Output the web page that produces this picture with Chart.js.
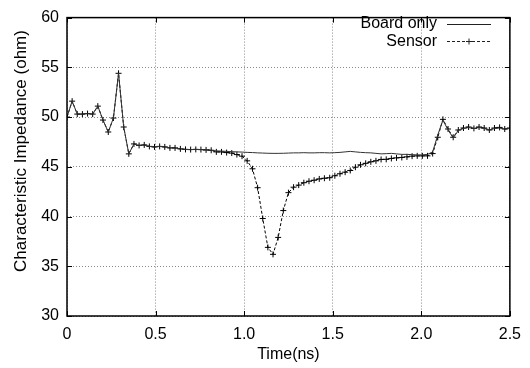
<!DOCTYPE html>
<html lang="en">
<head>
<meta charset="UTF-8">
<title>Characteristic Impedance</title>
<script src="https://cdn.jsdelivr.net/npm/chart.js@4.4.1/dist/chart.umd.min.js"></script>
<style>
  html, body { margin: 0; padding: 0; background: #fff; }
</style>
</head>
<body>
<canvas id="chart" width="530" height="368"></canvas>
<script>
// sample times (ns)
const times = [
  0, 0.029, 0.058, 0.087, 0.116, 0.145, 0.174, 0.203, 0.233, 0.262,
  0.291, 0.320, 0.349, 0.378, 0.407, 0.436, 0.465, 0.494, 0.523, 0.552,
  0.581, 0.610, 0.640, 0.669, 0.698, 0.727, 0.756, 0.785, 0.814, 0.843,
  0.872, 0.901, 0.930, 0.959, 0.988, 1.017, 1.047, 1.076, 1.105, 1.134,
  1.163, 1.192, 1.221, 1.250, 1.279, 1.308, 1.337, 1.366, 1.395, 1.424,
  1.453, 1.483, 1.512, 1.541, 1.570, 1.599, 1.628, 1.657, 1.686, 1.715,
  1.744, 1.773, 1.802, 1.831, 1.860, 1.890, 1.919, 1.948, 1.977, 2.006,
  2.035, 2.064, 2.093, 2.122, 2.151, 2.180, 2.209, 2.238, 2.267, 2.297,
  2.326, 2.355, 2.384, 2.413, 2.442, 2.471, 2.500
];

// impedance (ohm)
const sensor = [
  50.0, 51.6, 50.3, 50.3, 50.35, 50.3, 51.1, 49.7, 48.5, 49.9,
  54.4, 49.0, 46.3, 47.3, 47.15, 47.2, 47.05, 47.0, 47.05, 47.0,
  46.9, 46.9, 46.8, 46.75, 46.73, 46.75, 46.73, 46.7, 46.66, 46.5,
  46.5, 46.43, 46.38, 46.23, 46.07, 45.6, 44.8, 42.9, 39.8, 36.9,
  36.2, 37.9, 40.6, 42.4, 42.95, 43.16, 43.4, 43.55, 43.65, 43.78,
  43.85, 43.9, 44.1, 44.3, 44.46, 44.63, 44.96, 45.2, 45.35, 45.5,
  45.6, 45.74, 45.75, 45.84, 45.9, 45.94, 46.0, 46.07, 46.1, 46.1,
  46.1, 46.33, 47.97, 49.77, 48.8, 47.97, 48.7, 48.9, 49.0, 48.86,
  49.0, 48.9, 48.7, 48.9, 48.96, 48.8, 48.9
];

const boardOnly = [
  50.0, 51.6, 50.3, 50.3, 50.35, 50.3, 51.1, 49.7, 48.5, 49.9,
  54.4, 49.0, 46.3, 47.3, 47.15, 47.2, 47.05, 47.0, 47.05, 47.0,
  46.9, 46.9, 46.8, 46.75, 46.73, 46.75, 46.73, 46.7, 46.66, 46.6,
  46.58, 46.55, 46.52, 46.5, 46.48, 46.45, 46.43, 46.4, 46.38, 46.36,
  46.35, 46.35, 46.36, 46.38, 46.4, 46.4, 46.42, 46.4, 46.4, 46.42,
  46.42, 46.4, 46.42, 46.45, 46.5, 46.55, 46.5, 46.45, 46.42, 46.4,
  46.35, 46.3, 46.32, 46.35, 46.3, 46.25, 46.25, 46.22, 46.2, 46.2,
  46.25, 46.5, 48.2, 49.7, 48.7, 47.9, 48.65, 48.85, 48.95, 48.85,
  48.95, 48.85, 48.7, 48.85, 48.9, 48.8, 48.85
];

const xTicks = [0, 0.5, 1, 1.5, 2, 2.5];
const yTicks = [30, 35, 40, 45, 50, 55, 60];
const seriesNames = ['Board only', 'Sensor'];
const xTitle = 'Time(ns)';
const yTitle = 'Characteristic Impedance (ohm)';

const FONT = '"Liberation Sans", Arial, Helvetica, sans-serif';

function pts(vals) {
  return vals.map((v, i) => ({ x: times[i], y: v }));
}

// gnuplot style frame, inward ticks, axis titles and key
const gnuFrame = {
  id: 'gnuFrame',
  afterDraw(chart) {
    const { ctx, chartArea: a, scales: { x, y } } = chart;
    ctx.save();
    ctx.strokeStyle = '#000';
    ctx.lineWidth = 1;
    ctx.beginPath();
    xTicks.forEach(v => {
      const px = Math.round(x.getPixelForValue(v)) + 0.5;
      ctx.moveTo(px, a.bottom); ctx.lineTo(px, a.bottom - 5);
      ctx.moveTo(px, a.top); ctx.lineTo(px, a.top + 5);
    });
    yTicks.forEach(v => {
      const py = Math.round(y.getPixelForValue(v)) + 0.5;
      ctx.moveTo(a.left, py); ctx.lineTo(a.left + 5, py);
      ctx.moveTo(a.right, py); ctx.lineTo(a.right - 5, py);
    });
    ctx.stroke();
    ctx.lineWidth = 1.5;
    ctx.strokeRect(a.left, a.top, a.right - a.left, a.bottom - a.top);

    ctx.fillStyle = '#000';
    ctx.textBaseline = 'middle';
    ctx.textAlign = 'center';
    ctx.font = '16px ' + FONT;
    ctx.fillText(xTitle, (a.left + a.right) / 2, 355);

    ctx.save();
    ctx.translate(21, 151);
    ctx.rotate(-Math.PI / 2);
    ctx.font = '17px ' + FONT;
    ctx.fillText(yTitle, 0, 0);
    ctx.restore();

    // key
    ctx.textAlign = 'right';
    ctx.font = '16px ' + FONT;
    ctx.fillText(seriesNames[0], 437, 24);
    ctx.fillText(seriesNames[1], 437, 41.5);
    ctx.lineWidth = 1;
    ctx.strokeStyle = '#222';
    ctx.beginPath();
    ctx.moveTo(447, 24.5); ctx.lineTo(491, 24.5);
    ctx.stroke();
    ctx.setLineDash([3, 2]);
    ctx.beginPath();
    ctx.moveTo(447, 41.5); ctx.lineTo(491, 41.5);
    ctx.stroke();
    ctx.setLineDash([]);
    ctx.beginPath();
    ctx.moveTo(469, 38.5); ctx.lineTo(469, 44.5);
    ctx.moveTo(466, 41.5); ctx.lineTo(472, 41.5);
    ctx.stroke();
    ctx.restore();
  }
};

new Chart(document.getElementById('chart'), {
  type: 'scatter',
  data: {
    datasets: [
      {
        label: seriesNames[0],
        data: pts(boardOnly),
        showLine: true,
        borderColor: '#333',
        borderWidth: 1,
        pointRadius: 0,
        tension: 0
      },
      {
        label: seriesNames[1],
        data: pts(sensor),
        showLine: true,
        borderColor: '#000',
        borderWidth: 1,
        borderDash: [3, 2],
        pointStyle: 'cross',
        pointRadius: 3,
        pointBorderWidth: 1,
        pointBorderColor: '#000',
        tension: 0
      }
    ]
  },
  options: {
    responsive: false,
    animation: false,
    devicePixelRatio: 1,
    layout: { padding: { left: 0, right: 19, top: 11, bottom: 0 } },
    plugins: { legend: { display: false }, tooltip: { enabled: false } },
    scales: {
      x: {
        type: 'linear',
        min: 0, max: 2.5,
        afterFit: s => { s.height = 52; },
        ticks: { stepSize: 0.5, padding: 9, color: '#000', font: { family: FONT, size: 16 } },
        grid: { drawTicks: false, color: '#888' },
        border: { display: false, dash: [1, 2] }
      },
      y: {
        min: 30, max: 60,
        afterFit: s => { s.width = 67; },
        ticks: { stepSize: 5, padding: 8, color: '#000', font: { family: FONT, size: 16 } },
        grid: { drawTicks: false, color: '#888' },
        border: { display: false, dash: [1, 2] }
      }
    }
  },
  plugins: [gnuFrame]
});
</script>
</body>
</html>
